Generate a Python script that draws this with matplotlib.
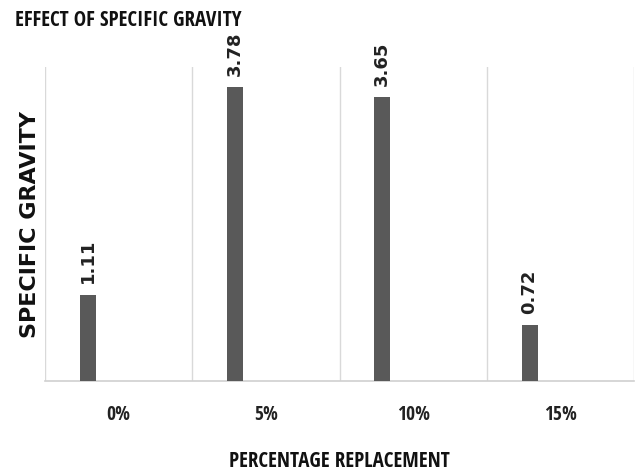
import matplotlib
matplotlib.use("Agg")
import matplotlib.pyplot as plt

categories = ["0%", "5%", "10%", "15%"]
values = [1.11, 3.78, 3.65, 0.72]
value_labels = ["1.11", "3.78", "3.65", "0.72"]

cond = ["Open Sans Condensed", "DejaVu Sans"]
wide = "DejaVu Sans"

fig = plt.figure(figsize=(6.36, 4.73), dpi=100)
ax = fig.add_axes([0.0708, 0.1945, 0.9262, 0.6635])

centers = [i + 0.5 for i in range(len(categories))]
pos = [c - 0.21 for c in centers]
ax.bar(pos, values, width=0.109, color="#595959", zorder=3)

for x, v, lab in zip(pos, values, value_labels):
    ax.annotate(lab, (x, v), xytext=(0, 8), textcoords="offset points",
                rotation=90, ha="center", va="bottom", fontsize=13,
                fontweight="bold", family=wide, color="#222222")

ax.set_xlim(0, 4)
ax.set_ylim(0, 4.03)
ax.set_xticks(centers)
ax.set_xticklabels(categories, fontsize=14, fontweight="bold", family=cond,
                   stretch="condensed", color="#222222")
ax.set_xticks(range(0, 5), minor=True)
ax.tick_params(axis="x", which="both", length=0, pad=17)
ax.set_yticks([])
ax.grid(axis="x", which="minor", color="#d9d9d9", linewidth=1, zorder=0)
for s in ["top", "right", "left"]:
    ax.spines[s].set_visible(False)
ax.spines["bottom"].set_color("#d0d0d0")
ax.spines["bottom"].set_linewidth(1.2)

ax.set_xlabel("PERCENTAGE REPLACEMENT", fontsize=15, fontweight="bold",
              family=cond, stretch="condensed", color="#111111", labelpad=19)
ax.set_ylabel("SPECIFIC GRAVITY", fontsize=16, fontweight="bold",
              family=wide, color="#111111")
ax.yaxis.set_label_coords(-0.009, 0.5)

fig.text(0.024, 0.957, "EFFECT OF SPECIFIC GRAVITY", fontsize=15, fontweight="bold",
         family=cond, stretch="condensed", color="#111111", ha="left", va="center")

fig.savefig("out.png", dpi=100)
